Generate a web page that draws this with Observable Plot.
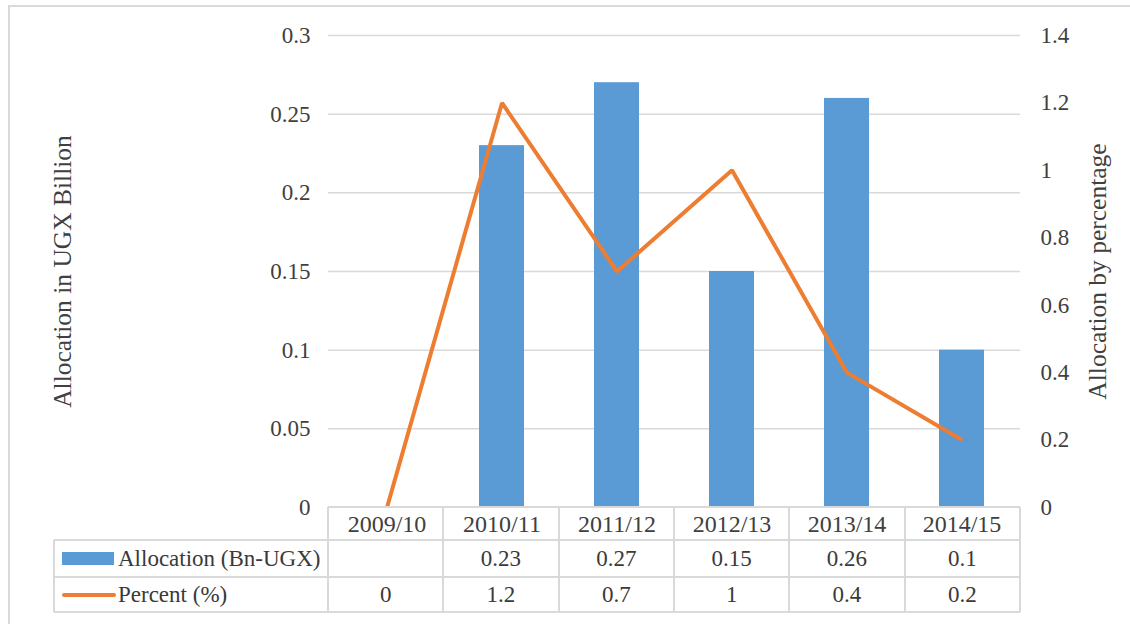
<!DOCTYPE html>
<html>
<head>
<meta charset="utf-8">
<script src="https://cdn.jsdelivr.net/npm/d3@7"></script>
<script src="https://cdn.jsdelivr.net/npm/@observablehq/plot@0.6"></script>
<style>
  html, body { margin: 0; padding: 0; background: #fff; }
  #wrap { position: relative; width: 1130px; height: 624px; overflow: hidden; color: #404040; }
  #wrap svg { position: absolute; left: 0; top: 0; }
  .ln { position: absolute; background: #d9d9d9; }
  .cell { position: absolute; text-align: center; color: #3a3a3a; line-height: 1; white-space: nowrap; }
</style>
</head>
<body>
<div id="wrap"></div>
<script>
// ---- data ----
const years = ["2009/10", "2010/11", "2011/12", "2012/13", "2013/14", "2014/15"];
const allocation = [null, 0.23, 0.27, 0.15, 0.26, 0.1];
const percent = [0, 1.2, 0.7, 1, 0.4, 0.2];
const leftTicks = [0, 0.05, 0.1, 0.15, 0.2, 0.25, 0.3];
const leftTickLabels = ["0", "0.05", "0.1", "0.15", "0.2", "0.25", "0.3"];
const rightTicks = [0, 0.2, 0.4, 0.6, 0.8, 1, 1.2, 1.4];
const rightTickLabels = ["0", "0.2", "0.4", "0.6", "0.8", "1", "1.2", "1.4"];
const seriesNames = ["Allocation (Bn-UGX)", "Percent (%)"];
const allocationLabels = ["", "0.23", "0.27", "0.15", "0.26", "0.1"];
const percentLabels = ["0", "1.2", "0.7", "1", "0.4", "0.2"];
const leftTitle = "Allocation in UGX Billion";
const rightTitle = "Allocation by percentage";

const blue = "#5B9BD5", orange = "#ED7D31", grid = "#d9d9d9";
const leftMax = 0.3, rightMax = 1.4, k = leftMax / rightMax;

// pick an installed serif font
function hasFont(name) {
  const c = document.createElement("canvas").getContext("2d");
  const s = "2009/10 Allocation (Bn-UGX) mmmWWWiii";
  c.font = "40px monospace"; const a = c.measureText(s).width;
  c.font = `40px "${name}", monospace`; const b = c.measureText(s).width;
  return Math.abs(a - b) > 0.5;
}
let FONT = "serif", SC = 1;
if (hasFont("Liberation Serif")) { FONT = '"Liberation Serif", serif'; SC = 1; }
else if (hasFont("DejaVu Serif")) { FONT = '"DejaVu Serif", serif'; SC = 0.86; }
const FS = 23 * SC, FSX = 24 * SC, FST = 25.5 * SC;
const wrap = document.getElementById("wrap");
wrap.style.fontFamily = FONT;

const rows = years.map((y, i) => ({year: y, allocation: allocation[i], percent: percent[i]}));
const rightScaled = rightTicks.map(v => v * k);

const W = 1130, H = 624, mL = 328, mR = 110, mT = 35, mB = 117;

const chart = Plot.plot({
  width: W, height: H,
  marginLeft: mL, marginRight: mR, marginTop: mT, marginBottom: mB,
  style: {fontFamily: FONT, fontSize: FS + "px", color: "#404040", background: "transparent", overflow: "visible"},
  x: {type: "band", domain: years, padding: 0},
  y: {domain: [0, leftMax]},
  marks: [
    Plot.ruleY(leftTicks.filter(d => d > 0), {stroke: grid, strokeWidth: 1.5}),
    Plot.axisX({anchor: "bottom", tickSize: 0, tickPadding: 7, label: null, fontSize: FSX}),
    Plot.axisY(leftTicks, {anchor: "left", tickSize: 0, tickPadding: 18, label: null, fontSize: FS,
      tickFormat: d => leftTickLabels[leftTicks.indexOf(d)]}),
    Plot.axisY(rightScaled, {anchor: "right", tickSize: 0, tickPadding: 20, label: null, fontSize: FS,
      tickFormat: d => rightTickLabels[rightScaled.indexOf(d)]}),
    Plot.text([leftTitle], {text: d => d, frameAnchor: "left", textAnchor: "middle", rotate: -90, dx: -266, fontSize: FST, fill: "#404040"}),
    Plot.text([rightTitle], {text: d => d, frameAnchor: "right", textAnchor: "middle", rotate: -90, dx: 77, fontSize: FST, fill: "#404040"}),
    Plot.barY(rows.filter(d => d.allocation != null), {x: "year", y: "allocation", fill: blue, insetLeft: 35, insetRight: 35}),
    Plot.lineY(rows, {x: "year", y: d => d.percent * k, stroke: orange, strokeWidth: 4, strokeLinejoin: "miter", strokeLinecap: "butt"})
  ]
});
wrap.appendChild(chart);

// ---- data table below the plot (HTML) ----
function line(x, y, w, h, color) {
  const d = document.createElement("div");
  d.className = "ln";
  d.style.left = x + "px"; d.style.top = y + "px"; d.style.width = w + "px"; d.style.height = h + "px";
  if (color) d.style.background = color;
  wrap.appendChild(d);
}
function cell(text, x, y, w, align) {
  const d = document.createElement("div");
  d.className = "cell";
  d.textContent = text;
  d.style.fontSize = FS + "px";
  d.style.left = x + "px"; d.style.top = y + "px"; d.style.width = w + "px";
  if (align) d.style.textAlign = align;
  wrap.appendChild(d);
}

// outer chart border
line(8, 5, W - 8, 2, "#d9d9d9");
line(8, 5, 2, H - 5, "#d9d9d9");

const x0 = mL, x1 = W - mR, step = (x1 - x0) / years.length;
const yHead = H - mB, yR1 = 540, yR2 = 577, yEnd = 612, tableLeft = 54;

line(x0, yHead - 1, x1 - x0, 2);
line(tableLeft, yR1 - 1, x1 - tableLeft, 2);
line(tableLeft, yR2 - 1, x1 - tableLeft, 2);
line(tableLeft, yEnd - 1, x1 - tableLeft, 2);
for (let i = 0; i <= years.length; i++) line(x0 + i * step - 1, yHead, 2, yEnd - yHead);
line(tableLeft - 1, yR1, 2, yEnd - yR1);

// legend keys
const key1 = document.createElement("div");
Object.assign(key1.style, {position: "absolute", left: "62px", top: "552px", width: "52px", height: "13px", background: blue});
wrap.appendChild(key1);
const key2 = document.createElement("div");
Object.assign(key2.style, {position: "absolute", left: "62px", top: "593px", width: "54px", height: "4px", background: orange, borderRadius: "2px"});
wrap.appendChild(key2);

cell(seriesNames[0], 118, yR1 + 7, 220, "left");
cell(seriesNames[1], 118, yR2 + 6, 220, "left");
years.forEach((y, i) => {
  cell(allocationLabels[i], x0 + i * step, yR1 + 7, step);
  cell(percentLabels[i], x0 + i * step, yR2 + 6, step);
});
</script>
</body>
</html>
